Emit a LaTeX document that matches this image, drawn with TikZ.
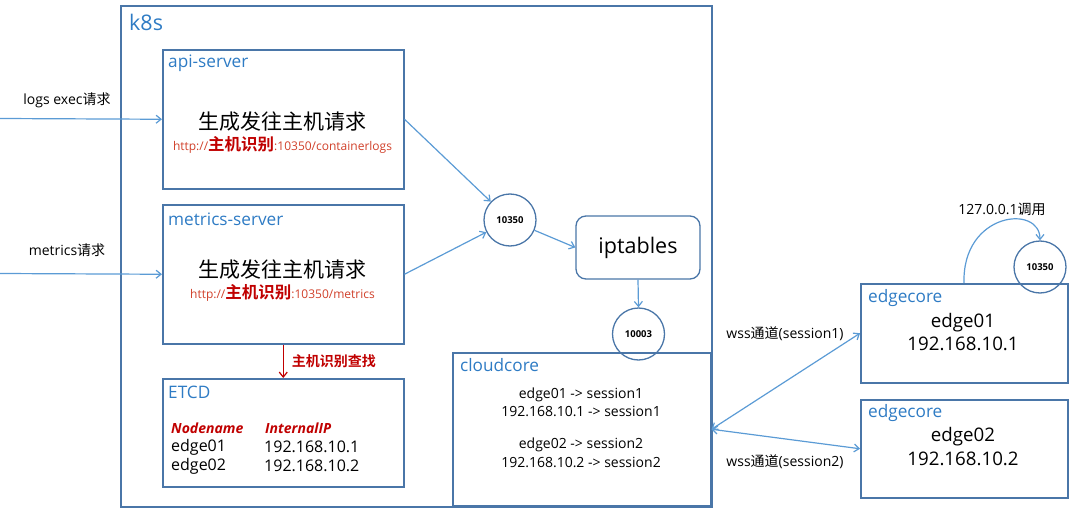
\documentclass[tikz,border=0pt]{standalone}
\usepackage{fontspec}
\setmainfont{Open Sans}
\newfontfamily\cjk{Noto Sans CJK SC}[BoldFont=* Bold]
\usetikzlibrary{arrows.meta}
\definecolor{boxc}{HTML}{4A76A8}
\definecolor{arrc}{HTML}{5B9BD5}
\definecolor{labc}{HTML}{2E7BC4}
\definecolor{redc}{HTML}{C00000}
\definecolor{urlc}{HTML}{D0402A}
\tikzset{
  box/.style={draw=boxc, line width=1.5pt, anchor=north west, inner sep=0pt},
  circ/.style={circle, draw=boxc, line width=1.3pt, minimum size=52pt, inner sep=0pt, font=\fontsize{9.5}{10}\selectfont\bfseries},
  lab/.style={anchor=west, text=labc, inner sep=0pt, font=\fontsize{17.2}{19}\selectfont},
  big/.style={inner sep=0pt, font=\cjk\fontsize{21}{23}\selectfont},
  url/.style={inner sep=0pt, text=urlc, font=\fontsize{12}{14}\selectfont},
  arr/.style={draw=arrc, line width=1.2pt, -{Straight Barb[length=5pt,width=8pt]}},
  biarr/.style={draw=arrc, line width=1.2pt, {Straight Barb[length=5pt,width=8pt]}-{Straight Barb[length=5pt,width=8pt]}},
  redarr/.style={draw=redc, line width=1.2pt, -{Straight Barb[length=5pt,width=8pt]}},
  txt/.style={inner sep=0pt, font=\fontsize{14}{16}\selectfont},
  mid/.style={inner sep=0pt, font=\fontsize{18.7}{21}\selectfont},
  row/.style={anchor=west, inner sep=0pt, font=\fontsize{16}{18}\selectfont},
  hdr/.style={anchor=west, inner sep=0pt, text=redc, font=\fontsize{14}{16}\selectfont\bfseries\itshape},
}
\begin{document}
\begin{tikzpicture}[x=1pt,y=-1pt]
\useasboundingbox (0,0) rectangle (1080,514);
% k8s
\node[box, minimum width=591pt, minimum height=501pt] (k8s) at (120,5) {};
\node[anchor=west, text=labc, inner sep=0pt, font=\fontsize{21.5}{23}\selectfont] (k8slab) at (129,22) {k8s};
% api-server
\node[box, minimum width=241pt, minimum height=139pt] (api) at (162,49) {};
\node[lab] (apilab) at (168,63) {api-server};
\node[big] (apitxt) at (282.5,122) {生成发往主机请求};
\node[url] (apiurl) at (282.5,145) {http://\textcolor{redc}{\cjk\fontsize{16.5}{17}\selectfont\bfseries 主机识别}:10350/containerlogs};
% metrics-server
\node[box, minimum width=241pt, minimum height=139pt] (ms) at (162,204) {};
\node[lab] (mslab) at (168,219) {metrics-server};
\node[big] (mstxt) at (282.5,270) {生成发往主机请求};
\node[url] (msurl) at (282.5,293) {http://\textcolor{redc}{\cjk\fontsize{16.5}{17}\selectfont\bfseries 主机识别}:10350/metrics};
% ETCD
\node[box, minimum width=241pt, minimum height=108pt] (etcd) at (162,378) {};
\node[lab] (etcdlab) at (168,392) {ETCD};
\node[hdr] (nn) at (171,428) {Nodename};
\node[hdr] (iip) at (265,428) {InternalIP};
\node[row] (e1n) at (171,447) {edge01};
\node[row] (e1ip) at (264,447) {192.168.10.1};
\node[row] (e2n) at (171,466) {edge02};
\node[row] (e2ip) at (264,466) {192.168.10.2};
\draw[redarr] (ms.south) -- (etcd.north) node[midway, right=8pt, inner sep=0pt, text=redc, font=\cjk\fontsize{14}{15}\selectfont\bfseries] (findlab) {主机识别查找};
% circles and iptables
\node[circ] (c1) at (510,220) {10350};
\node[draw=boxc, line width=1.3pt, rounded corners=10pt, minimum width=124pt, minimum height=63pt, inner sep=0pt, font=\fontsize{21.5}{24}\selectfont] (ipt) at (638,247.5) {iptables};
\node[circ] (c2) at (638.5,334) {10003};
% cloudcore
\node[box, minimum width=258pt, minimum height=153pt] (cc) at (452,352) {};
\node[lab] (cclab) at (460,365) {cloudcore};
\node[txt] (cc1) at (581,395) {edge01 -> session1};
\node[txt] (cc2) at (581,411) {192.168.10.1 -> session1};
\node[txt] (cc3) at (581,445) {edge02 -> session2};
\node[txt] (cc4) at (581,462) {192.168.10.2 -> session2};
% edgecores
\node[box, minimum width=207pt, minimum height=99pt] (e1) at (860,283) {};
\node[lab] (e1lab) at (868,298) {edgecore};
\node[mid] (e1a) at (963,323) {edge01};
\node[mid] (e1b) at (963,344) {192.168.10.1};
\node[box, minimum width=207pt, minimum height=98pt] (e2) at (860,399) {};
\node[lab] (e2lab) at (868,413) {edgecore};
\node[mid] (e2a) at (963,437) {edge02};
\node[mid] (e2b) at (963,459) {192.168.10.2};
\node[circ] (c3) at (1040,267) {10350};
% inputs
\coordinate (in1) at (0,118.5);
\coordinate (in2) at (0,273.5);
\node[txt] (in1lab) at (67,100) {logs exec{\cjk 请求}};
\node[txt] (in2lab) at (67,250) {metrics{\cjk 请求}};
\draw[arr] (in1) -- (api.west);
\draw[arr] (in2) -- (ms.west);
% connectors
\draw[arr] (api.east) -- (c1);
\draw[arr] (ms.east) -- (c1);
\draw[arr] (c1) -- (ipt.west);
\draw[arr] (ipt.south) -- (c2.north);
\draw[biarr] (cc.east) -- (e1.west);
\draw[biarr] (cc.east) -- (e2.west);
\node[txt] (wss1) at (785,334) {wss{\cjk 通道}(session1)};
\node[txt] (wss2) at (785,462) {wss{\cjk 通道}(session2)};
\coordinate (ls) at (964,283);
\draw[arr] (ls) .. controls (962,212) and (1040,204) .. (c3.north);
\node[txt] (loopl) at (1002,209) {127.0.0.1{\cjk 调用}};
\end{tikzpicture}
\end{document}
